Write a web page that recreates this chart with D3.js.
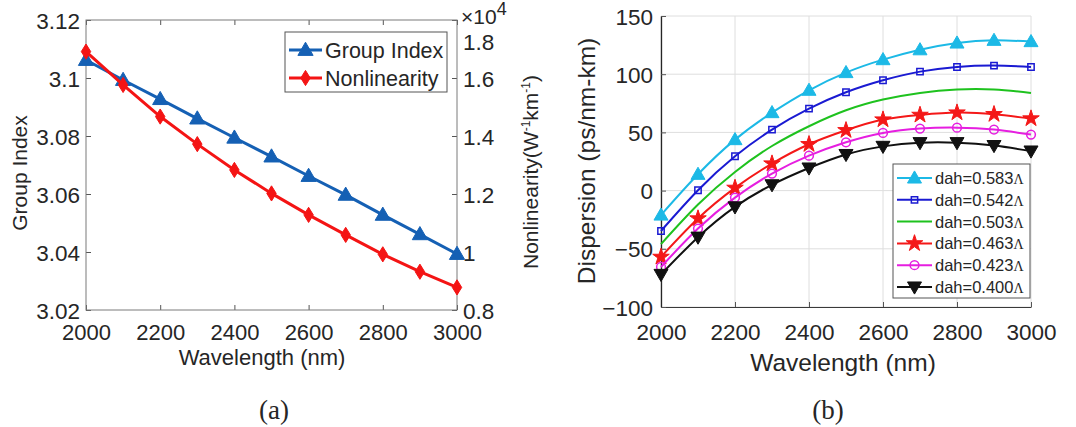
<!DOCTYPE html>
<html>
<head>
<meta charset="utf-8">
<script src="https://cdn.jsdelivr.net/npm/d3@7"></script>
<style>
  html, body { margin: 0; padding: 0; background: #fff; }
  svg { display: block; }
  text { font-family: "Liberation Sans", Arial, sans-serif; fill: #262626; }
</style>
</head>
<body>
<svg id="fig" width="1076" height="427"></svg>
<script>
// ---------- data ----------
const wavelength = [2000, 2100, 2200, 2300, 2400, 2500, 2600, 2700, 2800, 2900, 3000];

// (a) group index and nonlinear coefficient (W^-1 km^-1)
const groupIndex = [3.1062, 3.0993, 3.0927, 3.0860, 3.0794, 3.0729, 3.0662, 3.0597, 3.0528, 3.0461, 3.0393];
const nonlinearity = [16910, 15760, 14670, 13720, 12830, 12020, 11280, 10590, 9920, 9320, 8780];

// (b) dispersion (ps/nm-km) for each dah value
const dahValues = ["0.583", "0.542", "0.503", "0.463", "0.423", "0.400"];
const dispersion583 = [-21, 14, 43.8, 67, 86.2, 101.4, 112.5, 121, 126.8, 129.1, 128];
const dispersion542 = [-34.7, 0.3, 29.5, 52.4, 70.4, 84.5, 94.8, 102.2, 106.2, 107.4, 106.2];
const dispersion503 = [-46, -12, 16, 38.3, 55.3, 69, 78.2, 83.9, 86.8, 86.8, 83.9];
const dispersion463 = [-57, -24, 2.3, 23.2, 39.8, 51.8, 61, 65, 67, 65.6, 61.9];
const dispersion423 = [-65.6, -32.6, -6, 14.6, 30, 41.5, 49.5, 53.3, 54.1, 52.4, 48.1];
const dispersion400 = [-72, -40, -14, 5, 19.4, 31, 38, 41.2, 41.2, 38.7, 34];

// tick values
const wavelengthTicks = [2000, 2200, 2400, 2600, 2800, 3000];
const groupIndexTicks = [3.02, 3.04, 3.06, 3.08, 3.10, 3.12];
const nonlinearityTicks = [8000, 10000, 12000, 14000, 16000, 18000];
const dispersionTicks = [-100, -50, 0, 50, 100, 150];

// ---------- helpers ----------
const svg = d3.select("#fig");
const FONT = '"Liberation Sans", Arial, sans-serif';
const SERIF = '"Liberation Serif", "Times New Roman", serif';

// tall narrow diamond marker
const thinDiamond = {
  draw(ctx, size) {
    const h = Math.sqrt(size) * 0.95, w = h * 0.62;
    ctx.moveTo(0, -h); ctx.lineTo(w, 0); ctx.lineTo(0, h); ctx.lineTo(-w, 0); ctx.closePath();
  }
};

function marker(g, type, size, x, y, style) {
  return g.append("path")
    .attr("d", d3.symbol().type(type).size(size)())
    .attr("transform", `translate(${x},${y})` + (style.rotate ? " rotate(180)" : ""))
    .attr("fill", style.fill)
    .attr("stroke", style.stroke)
    .attr("stroke-width", style.sw || 1)
    .attr("stroke-linejoin", "miter");
}

function styleAxis(g, fontSize) {
  g.selectAll(".tick line").attr("stroke", "#555").attr("stroke-width", 1);
  g.selectAll(".tick text").attr("font-size", fontSize).attr("font-family", FONT).attr("fill", "#262626");
}

// =====================================================================
// (a) Group index / nonlinearity
// =====================================================================
const A = { left: 86, right: 457, top: 20, bottom: 310 };
const xa = d3.scaleLinear([2000, 3000], [A.left, A.right]);
const ya = d3.scaleLinear([3.02, 3.12], [A.bottom, A.top]);
const ya2 = d3.scaleLinear([8000, 18000], [A.bottom, A.top]);

const gA = svg.append("g");

// bottom axis
const axBA = gA.append("g").attr("transform", `translate(0,${A.bottom})`)
  .call(d3.axisBottom(xa).tickValues(wavelengthTicks).tickSizeInner(-5).tickSizeOuter(0).tickFormat(d3.format("d")));
axBA.select(".domain").remove();
styleAxis(axBA, 22);
axBA.selectAll(".tick text").attr("y", 30).attr("dy", 0);

// top ticks
const axTA = gA.append("g").attr("transform", `translate(0,${A.top})`)
  .call(d3.axisTop(xa).tickValues(wavelengthTicks).tickSizeInner(-5).tickSizeOuter(0).tickFormat(""));
axTA.select(".domain").remove();
styleAxis(axTA, 22);

// left axis
const axLA = gA.append("g").attr("transform", `translate(${A.left},0)`)
  .call(d3.axisLeft(ya).tickValues(groupIndexTicks).tickSizeInner(-5).tickSizeOuter(0).tickPadding(6).tickFormat(d => String(+d.toFixed(2))));
axLA.select(".domain").remove();
styleAxis(axLA, 22.5);
axLA.selectAll(".tick text").attr("dy", "0.36em");

// right axis
const axRA = gA.append("g").attr("transform", `translate(${A.right},0)`)
  .call(d3.axisRight(ya2).tickValues(nonlinearityTicks).tickSizeInner(-5).tickSizeOuter(0).tickPadding(6).tickFormat(d => String(d / 1e4)));
axRA.select(".domain").remove();
styleAxis(axRA, 22.5);
axRA.selectAll(".tick text").attr("dy", "0.36em")
  .filter(d => d === 18000).attr("dy", "1.3em");

// box
gA.append("rect").attr("x", A.left).attr("y", A.top)
  .attr("width", A.right - A.left).attr("height", A.bottom - A.top)
  .attr("fill", "none").attr("stroke", "#7a7a7a").attr("stroke-width", 1);

// exponent label
const expo = gA.append("text").attr("x", 461).attr("y", 24).attr("font-size", 21);
expo.append("tspan").text("×10");
expo.append("tspan").attr("dy", -9).attr("font-size", 18).text("4");

// series
const colGI = "#1560b4", colNL = "#f41414";
const lineA = d3.line().x((d, i) => xa(wavelength[i])).y(d => ya(d));
gA.append("path").datum(groupIndex)
  .attr("d", lineA).attr("fill", "none").attr("stroke", colGI).attr("stroke-width", 3);
groupIndex.forEach((v, i) => marker(gA, d3.symbolTriangle, 100, xa(wavelength[i]), ya(v) + 1, { fill: colGI, stroke: colGI }));

const lineA2 = d3.line().x((d, i) => xa(wavelength[i])).y(d => ya2(d));
gA.append("path").datum(nonlinearity)
  .attr("d", lineA2).attr("fill", "none").attr("stroke", colNL).attr("stroke-width", 3);
nonlinearity.forEach((v, i) => marker(gA, thinDiamond, 64, xa(wavelength[i]), ya2(v), { fill: colNL, stroke: colNL }));

// axis titles
gA.append("text").attr("x", 262).attr("y", 365).attr("text-anchor", "middle").attr("font-size", 22)
  .text("Wavelength (nm)");
gA.append("text").attr("transform", "translate(27,173) rotate(-90)").attr("text-anchor", "middle").attr("font-size", 21)
  .text("Group Index");
const nlTitle = gA.append("text").attr("transform", "translate(538,172) rotate(-90)").attr("text-anchor", "middle").attr("font-size", 21);
nlTitle.append("tspan").text("Nonlinearity(W");
nlTitle.append("tspan").attr("dy", -8).attr("font-size", 12).text("-1");
nlTitle.append("tspan").attr("dy", 8).text("km");
nlTitle.append("tspan").attr("dy", -8).attr("font-size", 12).text("-1");
nlTitle.append("tspan").attr("dy", 8).text(")");

// legend
const legA = gA.append("g");
legA.append("rect").attr("x", 285).attr("y", 32).attr("width", 162).attr("height", 60)
  .attr("fill", "#fff").attr("stroke", "#555").attr("stroke-width", 1);
[{ name: "Group Index", col: colGI, sym: d3.symbolTriangle, size: 100, y: 50 },
 { name: "Nonlinearity", col: colNL, sym: thinDiamond, size: 64, y: 78 }].forEach(e => {
  legA.append("line").attr("x1", 289).attr("x2", 322).attr("y1", e.y).attr("y2", e.y)
    .attr("stroke", e.col).attr("stroke-width", 3);
  marker(legA, e.sym, e.size, 305.5, e.y + (e.sym === d3.symbolTriangle ? 1 : 0), { fill: e.col, stroke: e.col });
  legA.append("text").attr("x", 325).attr("y", e.y).attr("dy", "0.36em").attr("font-size", 21.5).text(e.name);
});

gA.append("text").attr("x", 274).attr("y", 419).attr("text-anchor", "middle")
  .style("font-family", SERIF).attr("font-size", 27).attr("fill", "#111").text("(a)");

// =====================================================================
// (b) Dispersion
// =====================================================================
const B = { left: 661, right: 1031, top: 16, bottom: 307 };
const xb = d3.scaleLinear([2000, 3000], [B.left, B.right]);
const yb = d3.scaleLinear([-100, 150], [B.bottom, B.top]);
const gB = svg.append("g");

// grid
const gridB = gB.append("g");
wavelengthTicks.forEach(t => gridB.append("line").attr("x1", xb(t)).attr("x2", xb(t)).attr("y1", B.top).attr("y2", B.bottom)
  .attr("stroke", "#dedede").attr("stroke-width", 1));
dispersionTicks.forEach(t => gridB.append("line").attr("x1", B.left).attr("x2", B.right).attr("y1", yb(t)).attr("y2", yb(t))
  .attr("stroke", "#dedede").attr("stroke-width", 1));

const axBB = gB.append("g").attr("transform", `translate(0,${B.bottom})`)
  .call(d3.axisBottom(xb).tickValues(wavelengthTicks).tickSizeInner(-5).tickSizeOuter(0).tickFormat(d3.format("d")));
axBB.select(".domain").attr("stroke", "#3a3a3a").attr("stroke-width", 1.2);
styleAxis(axBB, 22.5);
axBB.selectAll(".tick text").attr("y", 33).attr("dy", 0);

const axLB = gB.append("g").attr("transform", `translate(${B.left},0)`)
  .call(d3.axisLeft(yb).tickValues(dispersionTicks).tickSizeInner(-5).tickSizeOuter(0).tickPadding(8).tickFormat(d3.format("d")));
axLB.select(".domain").attr("stroke", "#262626").attr("stroke-width", 1.3);
styleAxis(axLB, 22.5);
axLB.selectAll(".tick text").attr("dy", "0.36em");

const seriesB = [
  { values: dispersion583, col: "#1cb9e6", sym: d3.symbolTriangle, size: 85, fill: true, dy: 1 },
  { values: dispersion542, col: "#1a1ad2", sym: d3.symbolSquare, size: 40, fill: false, dy: 0 },
  { values: dispersion503, col: "#1ec21e", sym: null },
  { values: dispersion463, col: "#f41818", sym: d3.symbolStar, size: 85, fill: true, dy: 0 },
  { values: dispersion423, col: "#e61ee0", sym: d3.symbolCircle, size: 60, fill: false, dy: 0 },
  { values: dispersion400, col: "#111111", sym: d3.symbolTriangle, size: 85, fill: true, rotate: true, dy: -1 }
];

const lineB = d3.line().x((d, i) => xb(wavelength[i])).y(d => yb(d)).curve(d3.curveNatural);
seriesB.forEach(s => {
  gB.append("path").datum(s.values).attr("d", lineB)
    .attr("fill", "none").attr("stroke", s.col).attr("stroke-width", 2);
  if (s.sym) {
    s.values.forEach((v, i) => marker(gB, s.sym, s.size, xb(wavelength[i]), yb(v) + s.dy,
      { fill: s.fill ? s.col : "none", stroke: s.col, sw: s.fill ? 1 : 1.5, rotate: s.rotate }));
  }
});

// legend
const legB = gB.append("g");
legB.append("rect").attr("x", 893).attr("y", 164).attr("width", 137).attr("height", 134)
  .attr("fill", "#fff").attr("stroke", "#555").attr("stroke-width", 1);
seriesB.forEach((s, k) => {
  const y = 178 + k * 21.8;
  legB.append("line").attr("x1", 897).attr("x2", 932).attr("y1", y).attr("y2", y)
    .attr("stroke", s.col).attr("stroke-width", 2);
  if (s.sym) marker(legB, s.sym, s.size, 914.5, y + s.dy,
    { fill: s.fill ? s.col : "none", stroke: s.col, sw: s.fill ? 1 : 1.5, rotate: s.rotate });
  const t = legB.append("text").attr("x", 935).attr("y", y).attr("dy", "0.36em").attr("font-size", 16.5);
  t.append("tspan").text("dah=" + dahValues[k]);
  t.append("tspan").style("font-family", SERIF).attr("font-size", 14).text("Λ");
});

// titles
gB.append("text").attr("x", 843).attr("y", 371).attr("text-anchor", "middle").attr("font-size", 24.5)
  .text("Wavelength (nm)");
gB.append("text").attr("transform", "translate(595,161) rotate(-90)").attr("text-anchor", "middle").attr("font-size", 24.5)
  .text("Dispersion (ps/nm-km)");

gB.append("text").attr("x", 828).attr("y", 419).attr("text-anchor", "middle")
  .style("font-family", SERIF).attr("font-size", 27).attr("fill", "#111").text("(b)");
</script>
</body>
</html>
